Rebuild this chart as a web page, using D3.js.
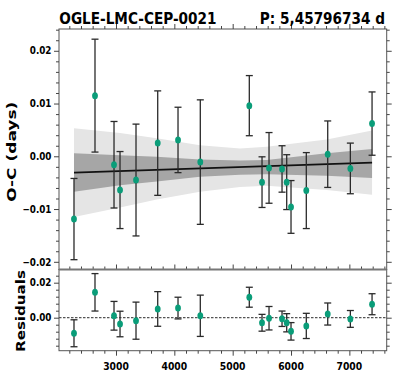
<!DOCTYPE html>
<html>
<head>
<meta charset="utf-8">
<script src="https://cdn.jsdelivr.net/npm/d3@7"></script>
<style>
  body { margin: 0; background: #fff; }
  text { font-family: "DejaVu Sans", sans-serif; font-weight: bold; fill: #000; }
</style>
</head>
<body>
<div id="chart"></div>
<script>
// O-C diagram, observed minus computed times of maximum light

const starName = "OGLE-LMC-CEP-0021";
const periodLabel = "P: 5,45796734 d";

// epochs (days) of the measured maxima
const epochs = [2280, 2640, 2966, 3069, 3343, 3715, 4063, 4445, 5285, 5503, 5623, 5846, 5926, 6000, 6262, 6629, 7017, 7389];
const oc = [-0.0119, 0.0115, -0.0016, -0.0064, -0.0045, 0.0025, 0.0031, -0.0011, 0.0096, -0.0049, -0.0022, -0.0024, -0.0049, -0.0096, -0.0065, 0.0004, -0.0023, 0.0062];
const ocErr = [0.0077, 0.0107, 0.0082, 0.0073, 0.0106, 0.0099, 0.0062, 0.0118, 0.0057, 0.0048, 0.0067, 0.0044, 0.0052, 0.0050, 0.0072, 0.0063, 0.0048, 0.0060];
const residuals = [-0.0089, 0.0145, 0.0011, -0.0036, -0.0017, 0.0050, 0.0055, 0.0011, 0.0117, -0.0029, -0.0003, -0.0006, -0.0029, -0.0078, -0.0047, 0.0021, -0.0007, 0.0077];

// linear fit and its confidence bands
const fitX = [2280, 7389];
const fitY = [-0.0031, -0.0012];
const bandX = [2280, 3069, 3698, 4440, 5126, 5583, 6612, 7389];
const lightHi = [0.0053, 0.0044, 0.0034, 0.0021, 0.0015, 0.0018, 0.0032, 0.0049];
const lightLo = [-0.0115, -0.0097, -0.0082, -0.0067, -0.0058, -0.0056, -0.0064, -0.0073];
const darkHi = [0.0006, 0.0002, -0.0001, -0.0006, -0.0008, -0.0007, 0.0006, 0.0014];
const darkLo = [-0.0067, -0.0055, -0.0048, -0.0039, -0.0035, -0.0034, -0.0037, -0.0041];

// ticks
const xMajor = [3000, 4000, 5000, 6000, 7000];
const xMinor = d3.range(2200, 7700, 200).filter(v => v % 1000 !== 0);
const ocMajor = [-0.02, -0.01, 0, 0.01, 0.02];
const ocMinor = d3.range(-20, 25, 2).filter(v => v % 10 !== 0).map(v => v / 1000);
const resMajor = [0, 0.02];
const resMinor = d3.range(-16, 28, 4).filter(v => v % 20 !== 0).map(v => v / 1000);

const width = 399, height = 382;
const left = 59, right = 386.7;

const svg = d3.select("#chart").append("svg")
    .attr("width", width)
    .attr("height", height);

const x = d3.scaleLinear().domain([2023, 7640]).range([left, right]);
const yTop = d3.scaleLinear().domain([-0.02146, 0.02413]).range([269.5, 29]);
const yBot = d3.scaleLinear().domain([-0.01886, 0.02754]).range([350.7, 269.5]);

const fmt = d3.format(".2f");
const squeeze = 0.88;

// narrow every label a bit, the original figure is compressed horizontally
function narrow(sel) {
    sel.each(function() {
        const len = this.getComputedTextLength();
        if (len > 0) {
            d3.select(this)
                .attr("textLength", len * squeeze)
                .attr("lengthAdjust", "spacingAndGlyphs");
        }
    });
}

function ticks(axis, pos, scale, major, minor, withLabels) {
    const g = svg.append("g").attr("transform", pos);
    g.append("g").call(axis(scale).tickValues(minor).tickSize(3).tickFormat(""));
    g.append("g").call(axis(scale).tickValues(major).tickSize(5).tickPadding(2.5)
        .tickFormat(withLabels ? fmt : ""));
    g.selectAll(".domain").remove();
    g.selectAll("line").attr("stroke", "#444").attr("stroke-width", 1);
    g.selectAll("text").style("font-size", "10px").attr("fill", "#000");
    return g;
}

// ---------- top panel ----------
const bandData = bandX.map((v, i) => ({ x: v, lh: lightHi[i], ll: lightLo[i], dh: darkHi[i], dl: darkLo[i] }));

svg.append("path")
    .datum(bandData)
    .attr("fill", "#e5e5e5")
    .attr("d", d3.area().x(d => x(d.x)).y0(d => yTop(d.ll)).y1(d => yTop(d.lh)));

svg.append("path")
    .datum(bandData)
    .attr("fill", "#a6a6a6")
    .attr("d", d3.area().x(d => x(d.x)).y0(d => yTop(d.dl)).y1(d => yTop(d.dh)));

svg.append("path")
    .datum(fitX.map((v, i) => [v, fitY[i]]))
    .attr("fill", "none")
    .attr("stroke", "#111")
    .attr("stroke-width", 1.8)
    .attr("d", d3.line().x(d => x(d[0])).y(d => yTop(d[1])));

function errorPoints(yScale, values) {
    const pts = epochs.map((e, i) => ({ x: e, y: values[i], err: ocErr[i] }));
    const g = svg.append("g");
    const bar = g.selectAll(".err").data(pts).enter().append("g")
        .attr("stroke", "#2a2a2a")
        .attr("stroke-width", 1.3);
    bar.append("line")
        .attr("x1", d => x(d.x)).attr("x2", d => x(d.x))
        .attr("y1", d => yScale(d.y - d.err)).attr("y2", d => yScale(d.y + d.err));
    bar.append("line")
        .attr("x1", d => x(d.x) - 3.5).attr("x2", d => x(d.x) + 3.5)
        .attr("y1", d => yScale(d.y - d.err)).attr("y2", d => yScale(d.y - d.err));
    bar.append("line")
        .attr("x1", d => x(d.x) - 3.5).attr("x2", d => x(d.x) + 3.5)
        .attr("y1", d => yScale(d.y + d.err)).attr("y2", d => yScale(d.y + d.err));
    g.selectAll(".pt").data(pts).enter().append("ellipse")
        .attr("cx", d => x(d.x))
        .attr("cy", d => yScale(d.y))
        .attr("rx", 2.9)
        .attr("ry", 3.5)
        .attr("fill", "#0a9d79");
}

errorPoints(yTop, oc);

svg.append("rect")
    .attr("x", left).attr("y", 29)
    .attr("width", right - left).attr("height", 269.5 - 29)
    .attr("fill", "none").attr("stroke", "#555").attr("stroke-width", 1);

ticks(d3.axisLeft, `translate(${left},0)`, yTop, ocMajor, ocMinor, true);
ticks(d3.axisRight, `translate(${right},0)`, yTop, ocMajor, ocMinor, false);
ticks(d3.axisTop, `translate(0,29)`, x, xMajor, xMinor, false);
ticks(d3.axisTop, `translate(0,269.5)`, x, xMajor, xMinor, false);

// ---------- bottom panel ----------
svg.append("line")
    .attr("x1", left).attr("x2", right)
    .attr("y1", yBot(0)).attr("y2", yBot(0))
    .attr("stroke", "#555")
    .attr("stroke-width", 1.2)
    .attr("stroke-dasharray", "2.5,1.5");

errorPoints(yBot, residuals);

svg.append("rect")
    .attr("x", left).attr("y", 269.5)
    .attr("width", right - left).attr("height", 350.7 - 269.5)
    .attr("fill", "none").attr("stroke", "#555").attr("stroke-width", 1);

svg.append("line")
    .attr("x1", left).attr("x2", right)
    .attr("y1", 269.5).attr("y2", 269.5)
    .attr("stroke", "#777").attr("stroke-width", 1.8);

ticks(d3.axisLeft, `translate(${left},0)`, yBot, resMajor, resMinor, true);
ticks(d3.axisRight, `translate(${right},0)`, yBot, resMajor, resMinor, false);
ticks(d3.axisBottom, `translate(0,350.7)`, x, xMajor, xMinor, false);

svg.append("g").selectAll("text").data(xMajor).enter().append("text")
    .attr("x", d => x(d))
    .attr("y", 369.5)
    .attr("text-anchor", "middle")
    .style("font-size", "10.5px")
    .text(d => d);

// ---------- titles ----------
svg.append("text")
    .attr("transform", `translate(59.3,24) scale(${squeeze},1)`)
    .style("font-size", "15.5px")
    .text(starName);

svg.append("text")
    .attr("transform", `translate(385,24) scale(${squeeze},1)`)
    .attr("text-anchor", "end")
    .style("font-size", "15.5px")
    .text(periodLabel);

svg.append("text")
    .attr("transform", "translate(15.5,151.7) rotate(-90)")
    .attr("text-anchor", "middle")
    .style("font-size", "13px")
    .attr("textLength", 100)
    .attr("lengthAdjust", "spacingAndGlyphs")
    .text("O-C (days)");

svg.append("text")
    .attr("transform", "translate(25,311) rotate(-90)")
    .attr("text-anchor", "middle")
    .style("font-size", "13px")
    .attr("textLength", 82)
    .attr("lengthAdjust", "spacingAndGlyphs")
    .text("Residuals");

svg.selectAll("text")
    .filter(function() { return !this.getAttribute("textLength") && !this.getAttribute("transform"); })
    .call(narrow);
</script>
</body>
</html>
